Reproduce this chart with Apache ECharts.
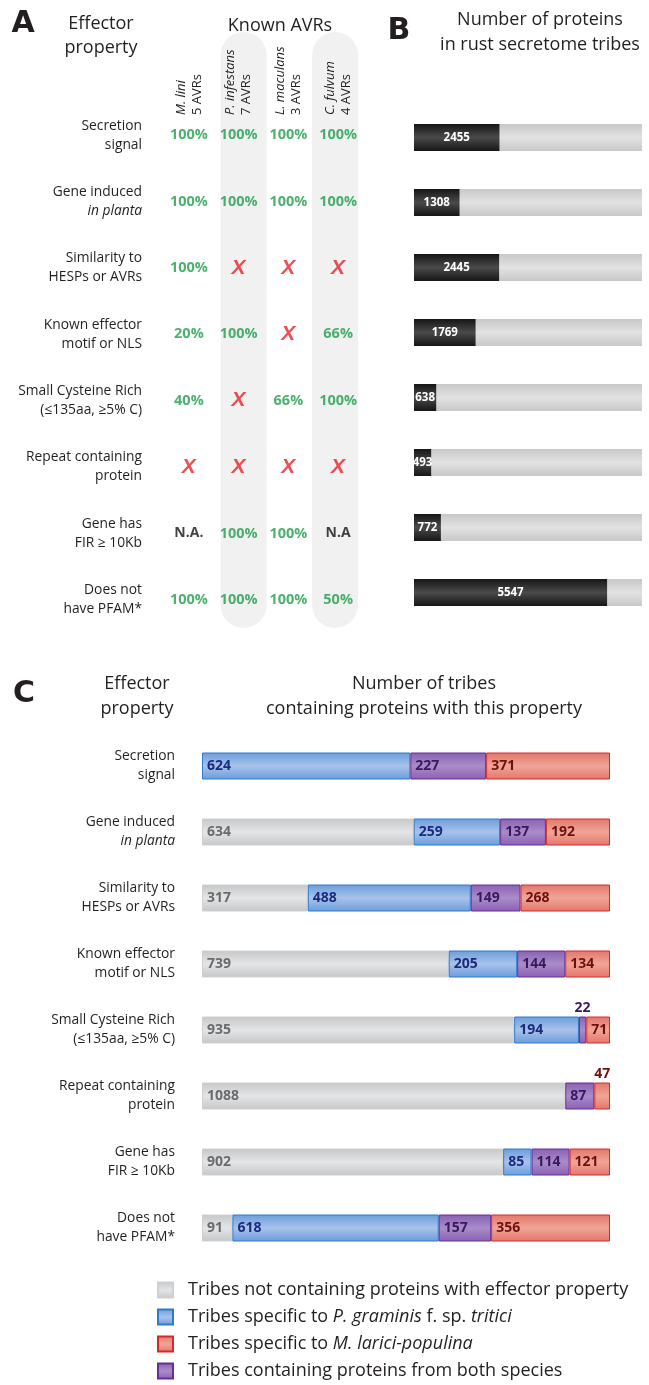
<!DOCTYPE html>
<html>
<head>
<meta charset="utf-8">
<script src="https://cdn.jsdelivr.net/npm/echarts@6/dist/echarts.min.js"></script>
<style>
  html, body { margin: 0; padding: 0; background: #fff; }
  #chart { width: 649px; height: 1385px; }
</style>
</head>
<body>
<div id="chart"></div>
<script>
// effector properties (rows shared by panels A, B and C)
const properties = [
  'Secretion\nsignal',
  'Gene induced\nin planta',
  'Similarity to\nHESPs or AVRs',
  'Known effector\nmotif or NLS',
  'Small Cysteine Rich\n(≤135aa, ≥5% C)',
  'Repeat containing\nprotein',
  'Gene has\nFIR ≥ 10Kb',
  'Does not\nhave PFAM*'
];

// panel A - known AVRs
const avrSpecies = ['M. lini', 'P. infestans', 'L. maculans', 'C. fulvum'];
const avrCounts = ['5 AVRs', '7 AVRs', '3 AVRs', '4 AVRs'];
const avrShaded = [0, 1, 0, 1];
const mLini = ['100%', '100%', '100%', '20%', '40%', 'X', 'N.A.', '100%'];
const pInfestans = ['100%', '100%', 'X', '100%', 'X', 'X', '100%', '100%'];
const lMaculans = ['100%', '100%', 'X', 'X', '66%', 'X', '100%', '100%'];
const cFulvum = ['100%', '100%', 'X', '66%', '100%', 'X', 'N.A', '50%'];

// panel B - number of proteins in rust secretome tribes
const secretomeProteins = [2455, 1308, 2445, 1769, 638, 493, 772, 5547];
const secretomeMax = 6550;

// panel C - number of tribes
const notContaining = [0, 634, 317, 739, 935, 1088, 902, 91];
const pgtSpecific = [624, 259, 488, 205, 194, 0, 85, 618];
const bothSpecies = [227, 137, 149, 144, 22, 87, 114, 157];
const mlpSpecific = [371, 192, 268, 134, 71, 47, 121, 356];

const seriesNames = [
  'Tribes not containing proteins with effector property',
  'Tribes specific to P. graminis f. sp. tritici',
  'Tribes specific to M. larici-populina',
  'Tribes containing proteins from both species'
];

const ff = "'Open Sans', sans-serif";
const textColor = '#231f20';

const chart = echarts.init(document.getElementById('chart'));

function vgrad(edge, mid) {
  return new echarts.graphic.LinearGradient(0, 0, 0, 1, [
    { offset: 0, color: edge },
    { offset: 0.5, color: mid },
    { offset: 1, color: edge }
  ]);
}

// cells of panel A table
const avrColumns = [mLini, pInfestans, lMaculans, cFulvum];
const avrCells = [];
avrColumns.forEach((col, c) => col.forEach((t, r) => avrCells.push([c, r, t])));

const tribeTotal = Math.max(...notContaining.map((v, i) => v + pgtSpecific[i] + bothSpecies[i] + mlpSpecific[i]));

function tribeSeries(name, data, edge, mid, border, labelColor) {
  return {
    name: name,
    type: 'bar',
    stack: 'tribes',
    xAxisIndex: 3,
    yAxisIndex: 3,
    barWidth: 27,
    data: data.map(v => {
      if (v === 0) return '-';
      if (v < 60) return { value: v, label: { position: 'top', distance: 1 } };
      return v;
    }),
    itemStyle: { color: vgrad(edge, mid), borderColor: border, borderWidth: 1 },
    label: {
      show: true,
      position: 'insideLeft',
      distance: 5,
      color: labelColor,
      fontFamily: ff,
      fontWeight: 'bold',
      fontSize: 14
    }
  };
}

const rowLabel = {
  fontFamily: ff,
  fontSize: 13.8,
  lineHeight: 19,
  color: textColor,
  formatter: v => v.replace('in planta', '{i|in planta}'),
  rich: {
    i: { fontFamily: ff, fontSize: 13.8, lineHeight: 19, color: textColor, fontStyle: 'italic' }
  }
};

function headText(text, x, y, size, weight, family) {
  return {
    type: 'text',
    x: x,
    y: y,
    style: {
      text: text,
      fontFamily: family || ff,
      fontSize: size,
      fontWeight: weight || 'normal',
      fill: textColor,
      textAlign: 'center',
      textVerticalAlign: 'middle'
    }
  };
}

const option = {
  animation: false,
  backgroundColor: '#fff',
  graphic: [
    headText('A', 23, 24, 30, 'bold', "'DejaVu Sans'"),
    headText('Effector', 101, 24, 18),
    headText('property', 101, 48, 18),
    headText('Known AVRs', 280, 26, 18),
    headText('B', 399, 31, 30, 'bold', "'DejaVu Sans'"),
    headText('Number of proteins', 540, 20, 18),
    headText('in rust secretome tribes', 540, 45, 18),
    headText('C', 24, 694, 30, 'bold', "'DejaVu Sans'"),
    headText('Effector', 137, 684, 18),
    headText('property', 137, 709, 18),
    headText('Number of tribes', 424, 684, 18),
    headText('containing proteins with this property', 424, 709, 18)
  ],
  legend: {
    orient: 'vertical',
    left: 157,
    top: 1281,
    padding: 0,
    itemWidth: 15,
    itemHeight: 15,
    itemGap: 9,
    icon: 'rect',
    data: [seriesNames[0], seriesNames[1], seriesNames[2], seriesNames[3]],
    formatter: name => name
      .replace('P. graminis', '{i|P. graminis}')
      .replace('tritici', '{i|tritici}')
      .replace('M. larici-populina', '{i|M. larici-populina}'),
    textStyle: {
      fontFamily: ff,
      fontSize: 18,
      lineHeight: 18,
      color: textColor,
      padding: [0, 0, 0, 10],
      rich: {
        i: { fontFamily: ff, fontSize: 18, lineHeight: 18, color: textColor, fontStyle: 'italic' }
      }
    }
  },
  grid: [
    { left: 175, right: 291, top: 32, bottom: 757, outerBoundsMode: 'none' },
    { left: 164, right: 286, top: 102, bottom: 752, outerBoundsMode: 'none' },
    { left: 414, right: 7, top: 105, bottom: 760, outerBoundsMode: 'none' },
    { left: 202, right: 39, top: 733, bottom: 124, outerBoundsMode: 'none' }
  ],
  xAxis: [
    { gridIndex: 0, type: 'category', data: avrSpecies, show: false },
    {
      gridIndex: 1,
      type: 'category',
      data: avrSpecies,
      position: 'top',
      offset: -13,
      z: 5,
      axisLine: { show: false },
      axisTick: { show: false },
      axisLabel: {
        interval: 0,
        rotate: -90,
        margin: 0,
        fontFamily: ff,
        fontSize: 13,
        lineHeight: 16,
        color: textColor,
        formatter: (v, i) => '{i|' + v + '}\n{n|' + avrCounts[i] + '}',
        rich: {
          i: { fontFamily: ff, fontSize: 13, lineHeight: 16, color: textColor, fontStyle: 'italic' },
          n: { fontFamily: ff, fontSize: 13, lineHeight: 16, color: textColor }
        }
      }
    },
    { gridIndex: 2, type: 'value', min: 0, max: secretomeMax, show: false },
    { gridIndex: 3, type: 'value', min: 0, max: tribeTotal, show: false }
  ],
  yAxis: [
    { gridIndex: 0, type: 'value', min: 0, max: 1, show: false },
    {
      gridIndex: 1,
      type: 'category',
      data: properties,
      inverse: true,
      axisLine: { show: false },
      axisTick: { show: false },
      axisLabel: Object.assign({ margin: 22, interval: 0 }, rowLabel)
    },
    { gridIndex: 2, type: 'category', data: properties, inverse: true, show: false },
    {
      gridIndex: 3,
      type: 'category',
      data: properties,
      inverse: true,
      axisLine: { show: false },
      axisTick: { show: false },
      axisLabel: Object.assign({ margin: 27, interval: 0 }, rowLabel)
    }
  ],
  series: [
    // shaded AVR columns
    {
      type: 'bar',
      xAxisIndex: 0,
      yAxisIndex: 0,
      z: -1,
      barWidth: 46,
      data: avrShaded.map(v => (v ? 1 : '-')),
      itemStyle: { color: '#f1f1f1', borderRadius: 23 },
      silent: true
    },
    // panel A values
    {
      type: 'scatter',
      xAxisIndex: 1,
      yAxisIndex: 1,
      symbolSize: 1,
      itemStyle: { color: 'rgba(0,0,0,0)' },
      data: avrCells,
      label: {
        show: true,
        position: 'inside',
        formatter: p => {
          const t = p.value[2];
          if (t === 'X') return '{x|X}';
          if (t.endsWith('%')) return '{p|' + t + '}';
          return '{n|' + t + '}';
        },
        rich: {
          p: { fontFamily: ff, fontSize: 14.5, fontWeight: 'bold', color: '#1f9e4b' },
          x: { fontFamily: "'Liberation Sans'", fontSize: 21, fontWeight: 'bold', fontStyle: 'italic', color: '#e8232a' },
          n: { fontFamily: ff, fontSize: 14, fontWeight: 'bold', color: '#111' }
        }
      }
    },
    // panel B
    {
      type: 'bar',
      xAxisIndex: 2,
      yAxisIndex: 2,
      barWidth: 27,
      data: secretomeProteins,
      showBackground: true,
      backgroundStyle: { color: vgrad('#c8c8c8', '#e2e2e2') },
      itemStyle: { color: vgrad('#161616', '#4a4a4a') },
      label: {
        show: true,
        position: 'inside',
        color: '#fff',
        fontFamily: ff,
        fontWeight: 'bold',
        fontSize: 11.5
      }
    },
    // panel C
    tribeSeries(seriesNames[0], notContaining, '#c6c7c9', '#e4e5e7', '#d0d0d2', '#6b6b6b'),
    tribeSeries(seriesNames[1], pgtSpecific, '#6a9ddb', '#a9c2ea', '#2b7bd0', '#1b2b7e'),
    tribeSeries(seriesNames[3], bothSpecies, '#8a60b3', '#a98cc9', '#6a2c98', '#3a1860'),
    tribeSeries(seriesNames[2], mlpSpecific, '#e3766c', '#f0a596', '#d32a2a', '#6e1010')
  ]
};

chart.setOption(option);
</script>
</body>
</html>
